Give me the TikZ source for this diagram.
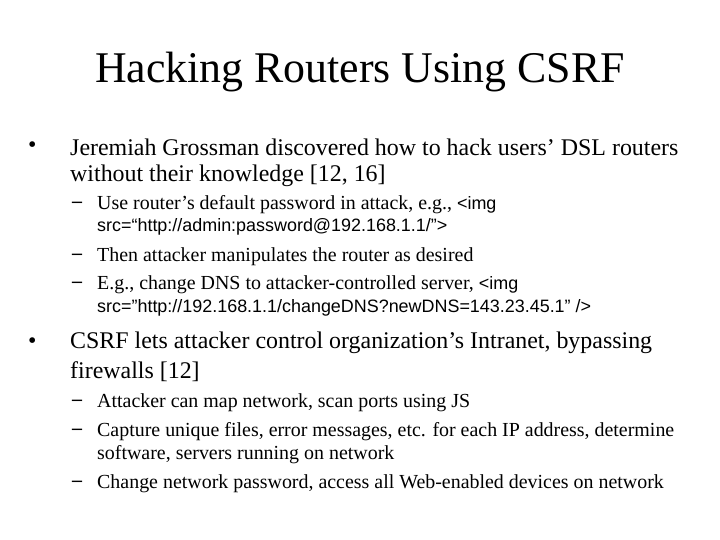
\documentclass[tikz,border=0pt]{standalone}
\usepackage{fontspec}
\setmainfont{Liberation Serif}
\newfontfamily\arial{Liberation Sans}
\begin{document}
\begin{tikzpicture}[x=1bp,y=-1bp,
  ttl/.style={font=\fontsize{44}{48}\selectfont, inner sep=0},
  lone/.style={anchor=west, font=\fontsize{24}{28}\selectfont, inner sep=0},
  ltwo/.style={anchor=west, font=\fontsize{20}{23}\selectfont, inner sep=0}]
\useasboundingbox (0,0) rectangle (720,540);
\node[ttl] (title) at (360,72) {Hacking Routers Using CSRF};
\node[lone] (b1) at (28,147) {•};
\node[lone] (t1a) at (70,147) {Jeremiah Grossman discovered how to hack users’ DSL routers};
\node[lone] (t1b) at (70,176) {without their knowledge [12, 16]};
\node[ltwo] (d1) at (72,205) {\textbf{–}};
\node[ltwo] (s1a) at (97,205) {Use router’s default password in attack, e.g., {\arial\fontsize{18}{20}\selectfont <img}};
\node[ltwo] (s1b) at (97,227) {\arial\fontsize{18}{20}\selectfont src=“http://admin:password@192.168.1.1/”>};
\node[ltwo] (d2) at (72,257) {\textbf{–}};
\node[ltwo] (s2) at (97,257) {Then attacker manipulates the router as desired};
\node[ltwo] (d3) at (72,285) {\textbf{–}};
\node[ltwo] (s3a) at (97,285) {E.g., change DNS to attacker-controlled server, {\arial\fontsize{18}{20}\selectfont <img}};
\node[ltwo] (s3b) at (97,308) {\arial\fontsize{18}{20}\selectfont src=”http://192.168.1.1/changeDNS?newDNS=143.23.45.1” />};
\node[lone] (b2) at (28,343) {•};
\node[lone] (t2a) at (70,343) {CSRF lets attacker control organization’s Intranet, bypassing};
\node[lone] (t2b) at (70,372) {firewalls [12]};
\node[ltwo] (d4) at (72,403) {\textbf{–}};
\node[ltwo] (s4) at (97,403) {Attacker can map network, scan ports using JS};
\node[ltwo] (d5) at (72,432) {\textbf{–}};
\node[ltwo] (s5a) at (97,432) {Capture unique files, error messages, etc. for each IP address, determine};
\node[ltwo] (s5b) at (97,455) {software, servers running on network};
\node[ltwo] (d6) at (72,484) {\textbf{–}};
\node[ltwo] (s6) at (97,484) {Change network password, access all Web-enabled devices on network};
\end{tikzpicture}
\end{document}
